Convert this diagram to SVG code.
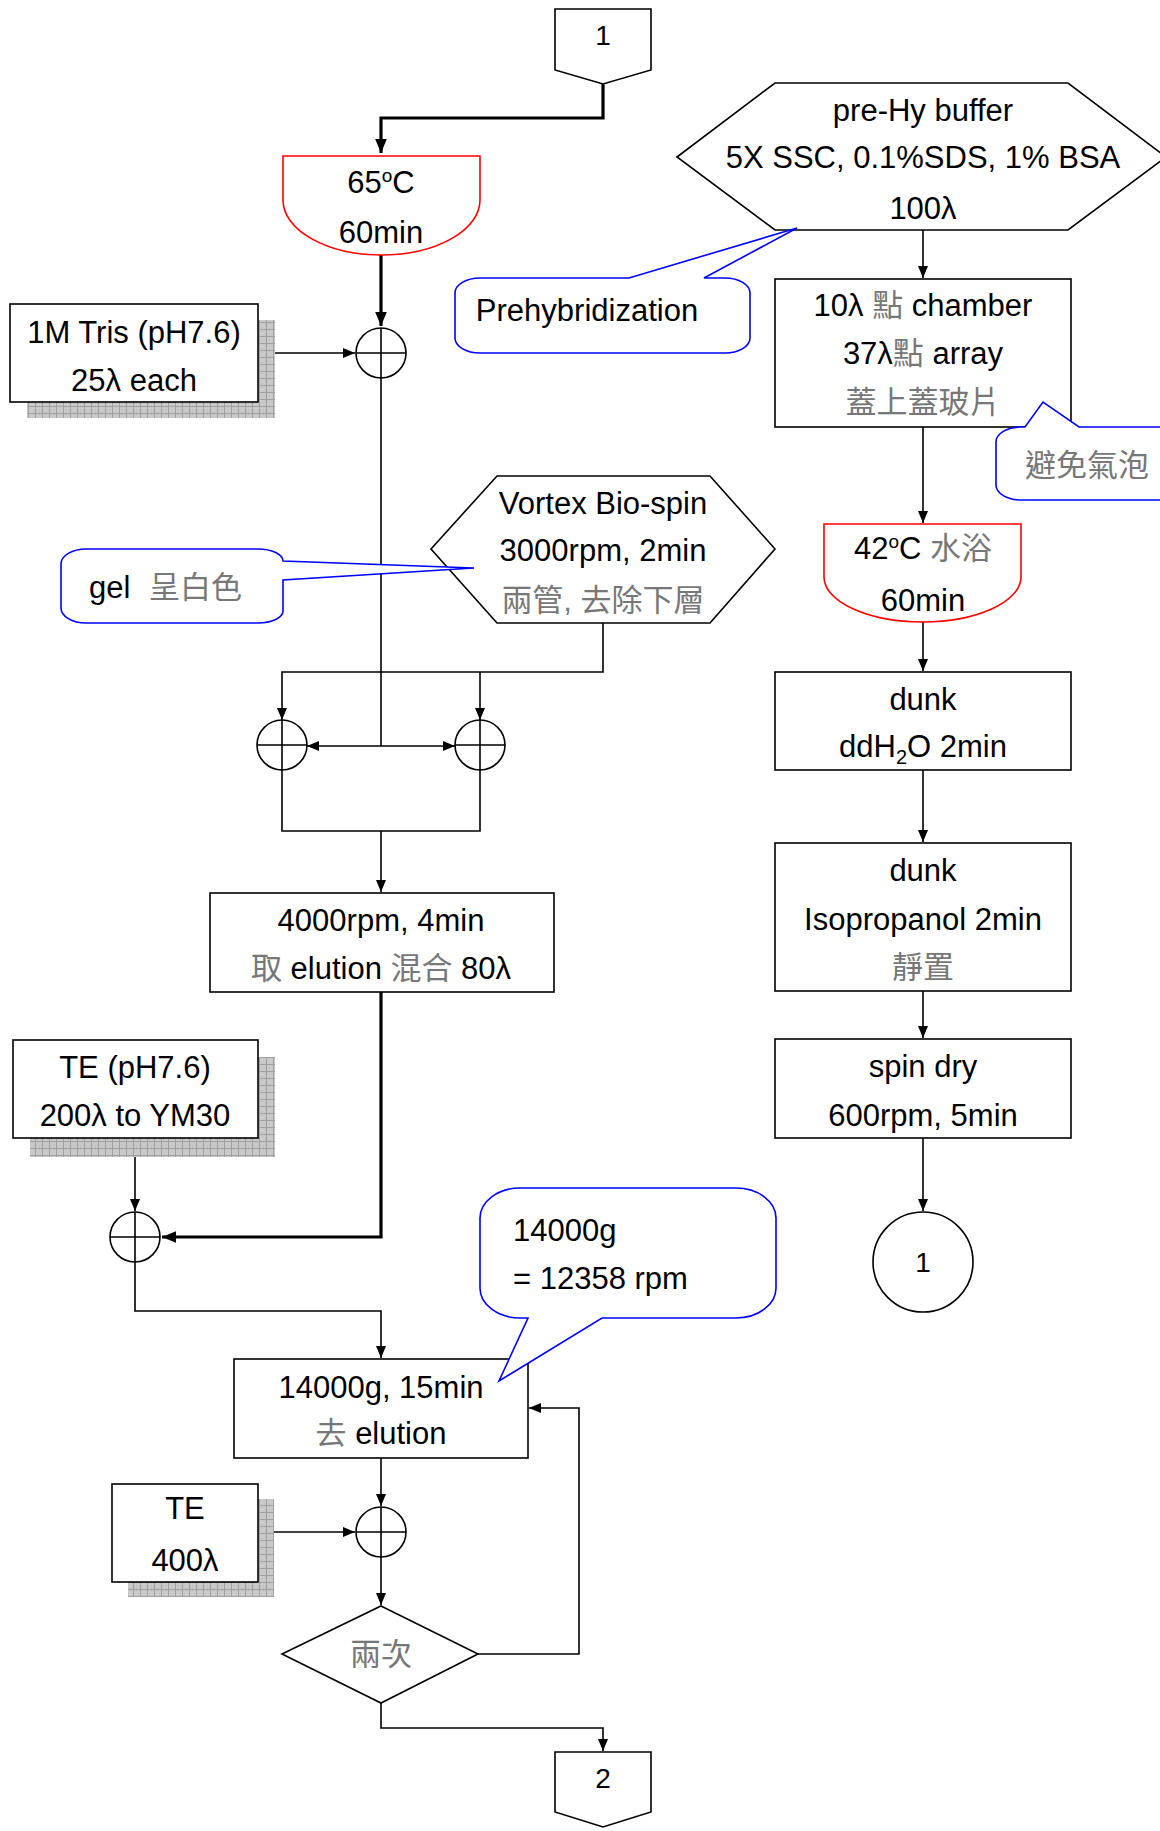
<svg xmlns="http://www.w3.org/2000/svg" width="1160" height="1831" viewBox="0 0 1160 1831">
<defs>
<style>
.t{font-family:"Liberation Sans","Noto Sans CJK TC",Arial,sans-serif;font-size:31px;fill:#000;text-anchor:middle}
.g{fill:#777}
.box{fill:#fff;stroke:#000;stroke-width:1.6}
.red{fill:#fff;stroke:#ff0000;stroke-width:1.6}
.call{fill:#fff;stroke:#0000ff;stroke-width:1.6}
.ln{fill:none;stroke:#000;stroke-width:1.6}
.thick{fill:none;stroke:#000;stroke-width:3.2}
.sh{fill:url(#grid)}
</style>
<pattern id="grid" width="7" height="7" patternUnits="userSpaceOnUse">
<rect width="7" height="7" fill="#c9c9c9"/>
<path d="M0,0.5H7M0.5,0V7" stroke="#a0a0a0" stroke-width="1"/>
</pattern>
<marker id="ah" viewBox="0 0 12 10" refX="12" refY="5" markerWidth="12" markerHeight="10" markerUnits="userSpaceOnUse" orient="auto">
<path d="M0,0L12,5L0,10z" fill="#000"/>
</marker>
<marker id="ahb" viewBox="0 0 12 10" refX="12" refY="5" markerWidth="14" markerHeight="12" markerUnits="userSpaceOnUse" orient="auto">
<path d="M0,0L12,5L0,10z" fill="#000"/>
</marker>
</defs>
<rect width="1160" height="1831" fill="#fff"/>

<g id="connectors">
<path class="thick" d="M603,84V118H381V153" marker-end="url(#ahb)"/>
<path class="thick" d="M381,255V326" marker-end="url(#ahb)"/>
<path class="ln" d="M258,353H355" marker-end="url(#ah)"/>
<path class="ln" d="M381,378V746"/>
<path class="ln" d="M381,746H307" marker-end="url(#ah)"/>
<path class="ln" d="M381,746H455" marker-end="url(#ah)"/>
<path class="ln" d="M603,623V672H282V720" marker-end="url(#ah)"/>
<path class="ln" d="M480,672V720" marker-end="url(#ah)"/>
<path class="ln" d="M282,770V831H480V770"/>
<path class="ln" d="M381,831V892" marker-end="url(#ah)"/>
<path class="thick" d="M381,992V1237H162" marker-end="url(#ahb)"/>
<path class="ln" d="M135,1138V1211" marker-end="url(#ah)"/>
<path class="ln" d="M135,1262V1311H381V1358" marker-end="url(#ah)"/>
<path class="ln" d="M381,1458V1506" marker-end="url(#ah)"/>
<path class="ln" d="M258,1532H355" marker-end="url(#ah)"/>
<path class="ln" d="M381,1557V1605" marker-end="url(#ah)"/>
<path class="ln" d="M478,1654H579V1408H529" marker-end="url(#ah)"/>
<path class="ln" d="M381,1703V1728H603V1751" marker-end="url(#ah)"/>
<path class="ln" d="M923,230V278" marker-end="url(#ah)"/>
<path class="ln" d="M923,427V523" marker-end="url(#ah)"/>
<path class="ln" d="M923,622V671" marker-end="url(#ah)"/>
<path class="ln" d="M923,770V842" marker-end="url(#ah)"/>
<path class="ln" d="M923,991V1038" marker-end="url(#ah)"/>
<path class="ln" d="M923,1138V1211" marker-end="url(#ah)"/>
</g>

<g id="conn1">
<path class="box" d="M555,9H651V70L603,84L555,70Z"/>
<text class="t" x="603" y="45" style="font-size:28px">1</text>
</g>

<g id="heat65">
<path class="red" d="M283,156H480V200A98.5,55 0 0 1 283,200Z"/>
<text class="t" x="381" y="193">65<tspan font-size="19" dy="-11">o</tspan><tspan dy="11">C</tspan></text>
<text class="t" x="381" y="243">60min</text>
</g>

<g id="tris">
<rect class="sh" x="27" y="320" width="248" height="98"/>
<rect class="box" x="10" y="304" width="248" height="98"/>
<text class="t" x="134" y="343">1M Tris (pH7.6)</text>
<text class="t" x="134" y="391">25λ each</text>
</g>

<g id="mix1">
<circle class="box" cx="381" cy="353" r="25"/>
<path class="ln" d="M356,353H406M381,328V378"/>
</g>

<g id="prehy">
<path class="box" d="M677,157L775,83H1068L1166,157L1068,230H775Z"/>
<text class="t" x="923" y="121">pre-Hy buffer</text>
<text class="t" x="923" y="168">5X SSC, 0.1%SDS, 1% BSA</text>
<text class="t" x="923" y="219">100λ</text>
</g>

<g id="call-prehyb">
<path class="call" d="M480,278H629L797,228L704,278H725A25,15 0 0 1 750,293V338A25,15 0 0 1 725,353H480A25,15 0 0 1 455,338V293A25,15 0 0 1 480,278Z"/>
<text class="t" x="587" y="321">Prehybridization</text>
</g>

<g id="chamber">
<rect class="box" x="775" y="279" width="296" height="148"/>
<text class="t" x="923" y="316">10λ <tspan class="g">點</tspan> chamber</text>
<text class="t" x="923" y="364">37λ<tspan class="g">點</tspan> array</text>
<text class="t g" x="923" y="413">蓋上蓋玻片</text>
</g>

<g id="call-bubble">
<path class="call" d="M1021,427H1025L1043,402L1079,427H1180V500H1021A25,15 0 0 1 996,485V442A25,15 0 0 1 1021,427Z"/>
<text class="t g" x="1087" y="476">避免氣泡</text>
</g>

<g id="vortex">
<path class="box" d="M431,549L497,476H710L775,549L710,623H497Z"/>
<text class="t" x="603" y="514">Vortex Bio-spin</text>
<text class="t" x="603" y="561">3000rpm, 2min</text>
<text class="t g" x="603" y="611">兩管, 去除下層</text>
</g>

<g id="call-gel">
<path class="call" d="M86,549H258A25,12 0 0 1 283,561L474,568L283,580V611A25,12 0 0 1 258,623H86A25,15 0 0 1 61,608V564A25,15 0 0 1 86,549Z"/>
<text class="t" x="89" y="598" style="text-anchor:start">gel <tspan class="g" dx="10">呈白色</tspan></text>
</g>

<g id="mix2">
<circle class="box" cx="282" cy="745" r="25"/>
<path class="ln" d="M257,745H307M282,720V770"/>
</g>
<g id="mix3">
<circle class="box" cx="480" cy="745" r="25"/>
<path class="ln" d="M455,745H505M480,720V770"/>
</g>

<g id="spin4000">
<rect class="box" x="210" y="893" width="344" height="99"/>
<text class="t" x="381" y="931">4000rpm, 4min</text>
<text class="t" x="381" y="979"><tspan class="g">取</tspan> elution <tspan class="g">混合</tspan> 80λ</text>
</g>

<g id="te1">
<rect class="sh" x="30" y="1057" width="245" height="100"/>
<rect class="box" x="13" y="1040" width="245" height="98"/>
<text class="t" x="135" y="1078">TE (pH7.6)</text>
<text class="t" x="135" y="1126">200λ to YM30</text>
</g>

<g id="mix4">
<circle class="box" cx="135" cy="1237" r="25"/>
<path class="ln" d="M110,1237H160M135,1212V1262"/>
</g>

<g id="spin14000">
<rect class="box" x="234" y="1359" width="294" height="99"/>
<text class="t" x="381" y="1398">14000g, 15min</text>
<text class="t" x="381" y="1444"><tspan class="g">去</tspan> elution</text>
</g>

<g id="call-14000">
<path class="call" d="M520,1188H736A40,30 0 0 1 776,1218V1288A40,30 0 0 1 736,1318H602L499,1381L528,1318H520A40,30 0 0 1 480,1288V1218A40,30 0 0 1 520,1188Z"/>
<text class="t" x="513" y="1241" style="text-anchor:start">14000g</text>
<text class="t" x="513" y="1289" style="text-anchor:start">= 12358 rpm</text>
</g>

<g id="te2">
<rect class="sh" x="128" y="1499" width="146" height="98"/>
<rect class="box" x="112" y="1484" width="146" height="98"/>
<text class="t" x="185" y="1519">TE</text>
<text class="t" x="185" y="1571">400λ</text>
</g>

<g id="mix5">
<circle class="box" cx="381" cy="1532" r="25"/>
<path class="ln" d="M356,1532H406M381,1507V1557"/>
</g>

<g id="twice">
<path class="box" d="M381,1606L478,1654L381,1703L282,1654Z"/>
<text class="t g" x="381" y="1665">兩次</text>
</g>

<g id="conn2">
<path class="box" d="M555,1752H651V1812L603,1827L555,1812Z"/>
<text class="t" x="603" y="1788" style="font-size:28px">2</text>
</g>

<g id="heat42">
<path class="red" d="M824,524H1021V577A98.5,45 0 0 1 824,577Z"/>
<text class="t" x="923" y="559">42<tspan font-size="19" dy="-11">o</tspan><tspan dy="11">C  </tspan><tspan class="g">水浴</tspan></text>
<text class="t" x="923" y="611">60min</text>
</g>

<g id="dunk1">
<rect class="box" x="775" y="672" width="296" height="98"/>
<text class="t" x="923" y="710">dunk</text>
<text class="t" x="923" y="757">ddH<tspan font-size="20" dy="7">2</tspan><tspan dy="-7">O 2min</tspan></text>
</g>

<g id="dunk2">
<rect class="box" x="775" y="843" width="296" height="148"/>
<text class="t" x="923" y="881">dunk</text>
<text class="t" x="923" y="930">Isopropanol 2min</text>
<text class="t g" x="923" y="978">靜置</text>
</g>

<g id="spindry">
<rect class="box" x="775" y="1039" width="296" height="99"/>
<text class="t" x="923" y="1077">spin dry</text>
<text class="t" x="923" y="1126">600rpm, 5min</text>
</g>

<g id="end1">
<circle class="box" cx="923" cy="1262" r="50"/>
<text class="t" x="923" y="1272" style="font-size:28px">1</text>
</g>
</svg>
